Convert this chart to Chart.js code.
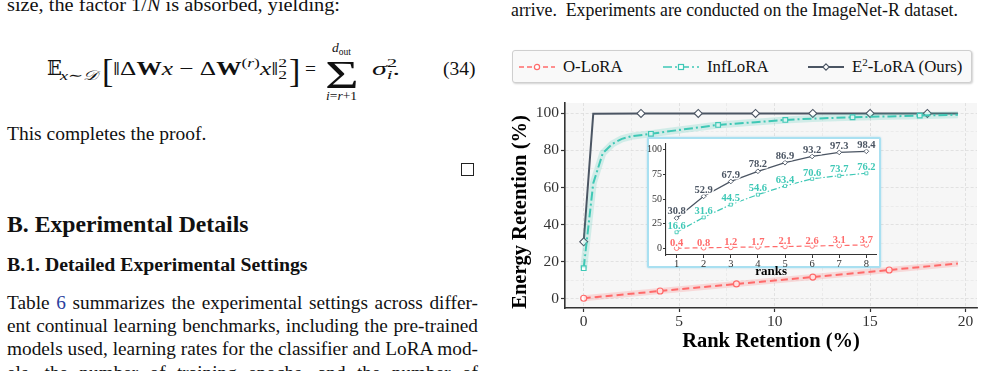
<!DOCTYPE html>
<html>
<head>
<meta charset="utf-8">
<script src="https://cdn.jsdelivr.net/npm/chart.js@4.4.1/dist/chart.umd.min.js"></script>
<style>
  html, body { margin: 0; padding: 0; background: #fff; }
  body { width: 984px; height: 371px; overflow: hidden; position: relative;
         font-family: 'Liberation Serif', 'Times New Roman', serif; color: #111; }
  .t { position: absolute; white-space: nowrap; transform-origin: left center; }
  .p { font-size: 19.3px; line-height: 19.3px; }
  .just { width: 471px; text-align: justify; text-align-last: justify; white-space: normal; }
  .up { font-size: 13.5px; position: relative; top: -7.5px; }
  .dn { font-size: 13.5px; position: relative; top: 4px; }
  .eqm { font-size: 19.5px; line-height: 19.5px; font-family: 'Liberation Serif', 'DejaVu Serif', serif; }
  .sm { font-size: 13.5px; line-height: 13.5px; font-family: 'Liberation Serif', 'DejaVu Serif', serif; }
  .big { font-size: 34px; line-height: 34px; }
  .qed { position: absolute; left: 461px; top: 163px; width: 11px; height: 11px; border: 1px solid #222; }
  .legend { position: absolute; left: 512px; top: 50px; width: 458px; height: 31px;
            border: 1px solid #cfcfcf; border-radius: 3px; background: #f9f9f9;
            box-shadow: 1px 1px 2px rgba(0,0,0,0.18); }
  .legend svg { position: absolute; top: 11px; }
  .legend .lt { position: absolute; top: 8px; font-size: 16.8px; line-height: 16.8px; white-space: nowrap; color: #111; }
  #mainWrap { position: absolute; left: 495px; top: 88px; width: 489px; height: 283px; }
  #insetBox { position: absolute; left: 647px; top: 137px; width: 234px; height: 131px; box-sizing: border-box;
              border: 2.5px solid #a9e0f1; border-radius: 2px; background: #fff;
              box-shadow: 0 0 2px rgba(120,200,230,0.6); }
  #insetWrap { position: absolute; left: 647px; top: 137px; width: 234px; height: 145px; }
</style>
</head>
<body>
<!-- left column -->
<div class="t" data-fit="333" style="left:7px;top:-5.3px;font-size:19.5px;line-height:19.5px">size, the factor 1/<i>N</i> is absorbed, yielding:</div>

<div class="t eqm" style="left:47px;top:58.7px">𝔼</div>
<div class="t sm" data-fit="38" style="left:60px;top:68.7px"><i>x</i>∼<i>𝒟</i></div>
<div class="t big" style="left:102px;top:53.5px">[</div>
<div class="t eqm" data-fit="174" style="left:113px;top:58.7px">‖Δ<b>W</b><i>x</i> − Δ<b>W</b><span class="up">(<i>r</i>)</span><i>x</i>‖<span class="up">2</span><span class="dn" style="margin-left:-6.8px">2</span></div>
<div class="t big" style="left:289px;top:53.5px">]</div>
<div class="t eqm" style="left:305px;top:58.7px">=</div>
<div class="t" style="left:325px;top:54.5px;font-size:40px;line-height:40px;transform:scaleX(1.45)">Σ</div>
<div class="t sm" style="left:332px;top:40.7px"><i>d</i><span style="font-size:9.5px;position:relative;top:3px">out</span></div>
<div class="t sm" style="left:326px;top:88.7px"><i>i</i>=<i>r</i>+1</div>
<div class="t eqm" data-fit="28" style="left:372px;top:58.7px"><i>σ</i><span class="up">2</span><span class="dn" style="margin-left:-6.8px"><i>i</i></span>.</div>
<div class="t eqm" style="left:443px;top:58.7px">(34)</div>

<div class="t" style="left:7px;top:123.7px;font-size:19.5px;line-height:19.5px">This completes the proof.</div>
<div class="qed"></div>

<div class="t" style="left:7px;top:213.2px;font-size:23.7px;line-height:23.7px;font-weight:bold">B. Experimental Details</div>
<div class="t" style="left:7px;top:255.4px;font-size:19.8px;line-height:19.8px;font-weight:bold">B.1. Detailed Experimental Settings</div>

<div class="t p just" style="left:7px;top:292.8px">Table <span style="color:#2b3f9e">6</span> summarizes the experimental settings across differ-</div>
<div class="t p just" style="left:7px;top:316.1px">ent continual learning benchmarks, including the pre-trained</div>
<div class="t p just" style="left:7px;top:339.3px">models used, learning rates for the classifier and LoRA mod-</div>
<div class="t p just" style="left:7px;top:362.5px">els, the number of training epochs, and the number of</div>

<!-- right column -->
<div class="t" data-fit="447" style="left:511px;top:1.5px;font-size:17.9px;line-height:17.9px">arrive.&nbsp; Experiments are conducted on the ImageNet-R dataset.</div>

<div class="legend">
  <svg style="left:6px" width="36" height="10" viewBox="0 0 36 10">
    <line x1="0" y1="5" x2="36" y2="5" stroke="#ff6b6b" stroke-width="1.5" stroke-dasharray="5 3"/>
    <circle cx="18" cy="5" r="2.6" fill="#fff" stroke="#ff6b6b" stroke-width="1.2"/>
  </svg>
  <div class="lt" style="left:50px">O-LoRA</div>
  <svg style="left:150px" width="36" height="10" viewBox="0 0 36 10">
    <line x1="0" y1="5" x2="36" y2="5" stroke="#3fc8b6" stroke-width="1.5" stroke-dasharray="9 3 2 3"/>
    <rect x="15.5" y="2.5" width="5" height="5" fill="#fff" stroke="#3fc8b6" stroke-width="1.2"/>
  </svg>
  <div class="lt" style="left:194px">InfLoRA</div>
  <svg style="left:295px" width="36" height="10" viewBox="0 0 36 10">
    <line x1="0" y1="5" x2="36" y2="5" stroke="#4b5563" stroke-width="1.8"/>
    <polygon points="18,1.8 21.2,5 18,8.2 14.8,5" fill="#fff" stroke="#4b5563" stroke-width="1.1"/>
  </svg>
  <div class="lt" style="left:339px">E<span style="font-size:11px;position:relative;top:-6px">2</span>-LoRA (Ours)</div>
</div>

<div id="mainWrap"><canvas id="main" width="489" height="283"></canvas></div>
<div id="insetBox"></div>
<div id="insetWrap"><canvas id="inset" width="234" height="145"></canvas></div>

<script>
// squeeze or stretch single text lines to the width they have in the page
function fitLines() {
    document.querySelectorAll('[data-fit]').forEach(el => {
        el.style.transform = 'none';
        const w = el.getBoundingClientRect().width;
        if (w > 0) el.style.transform = 'scaleX(' + (parseFloat(el.dataset.fit) / w) + ')';
    });
}
fitLines();
if (document.fonts) document.fonts.ready.then(fitLines);

// main panel: energy retention vs rank retention (%)
const e2X = [0, 0.5, 3, 6, 9, 12, 15, 18, 19.6];
const e2Y = [30.8, 99.7, 99.9, 99.9, 99.9, 99.9, 99.9, 99.9, 99.9];
const e2Marks = [0, 3, 6, 9, 12, 15, 18];

const infX = [0, 0.5, 1, 1.5, 2, 2.5, 3.52, 5, 7.04, 9, 10.56, 12, 14.08, 16, 17.6, 19.6];
const infY = [16.6, 62.3, 78.5, 83.5, 86.2, 87.6, 88.9, 91.0, 93.7, 95.2, 96.4, 97.1, 97.8, 98.3, 98.7, 99.2];
const infMarks = [0, 3.52, 7.04, 10.56, 14.08, 17.6];

const olX = [0, 4, 8, 12, 16, 19.6];
const olY = [0.4, 4.3, 8.1, 11.8, 15.6, 19.1];
const olMarks = [0, 4, 8, 12, 16];

const xTicks = [0, 5, 10, 15, 20];
const yTicks = [0, 20, 40, 60, 80, 100];

// inset: energy retention for the first ranks
const ranks = [1, 2, 3, 4, 5, 6, 7, 8];
const e2Rank = [30.8, 52.9, 67.9, 78.2, 86.9, 93.2, 97.3, 98.4];
const infRank = [16.6, 31.6, 44.5, 54.6, 63.4, 70.6, 73.7, 76.2];
const olRank = [0.4, 0.8, 1.2, 1.7, 2.1, 2.6, 3.1, 3.7];
const insetYTicks = [0, 25, 50, 75, 100];

const SERIF = "'Liberation Serif', 'Times New Roman', serif";
const RED = '#ff6b6b', TEAL = '#3fc8b6', DARK = '#4b5563';

const pts = (xs, ys) => xs.map((x, i) => ({ x: x, y: ys[i] }));
const markAt = (marks, r) => ctx => (ctx.raw && marks.includes(ctx.raw.x)) ? r : 0;

const panelBg = {
    id: 'panelBg',
    beforeDraw(chart, args, opts) {
        if (!opts.color) return;
        const { ctx, chartArea: a } = chart;
        ctx.save();
        ctx.fillStyle = opts.color;
        ctx.fillRect(a.left, a.top, a.right - a.left, a.bottom - a.top);
        ctx.restore();
    }
};

const axisTitles = {
    id: 'axisTitles',
    afterDraw(chart, args, opts) {
        const { ctx, chartArea: a } = chart;
        ctx.save();
        ctx.fillStyle = '#000';
        ctx.font = opts.font;
        ctx.textAlign = 'center';
        ctx.textBaseline = 'alphabetic';
        if (opts.x) ctx.fillText(opts.x, (a.left + a.right) / 2, opts.xBase);
        if (opts.y) {
            ctx.translate(opts.yBase, opts.yMid);
            ctx.rotate(-Math.PI / 2);
            ctx.fillText(opts.y, 0, 0);
        }
        ctx.restore();
    }
};

const pointLabels = {
    id: 'pointLabels',
    afterDatasetsDraw(chart) {
        const ctx = chart.ctx;
        chart.data.datasets.forEach((ds, i) => {
            if (!ds.labelColor) return;
            const meta = chart.getDatasetMeta(i);
            ctx.save();
            ctx.font = 'bold 10.5px ' + SERIF;
            ctx.textAlign = 'center';
            ctx.textBaseline = 'middle';
            ctx.lineJoin = 'round';
            ctx.lineWidth = 3;
            ctx.strokeStyle = 'rgba(255,255,255,0.95)';
            ctx.fillStyle = ds.labelColor;
            meta.data.forEach((pt, j) => {
                const txt = ds.data[j].y.toFixed(1);
                ctx.strokeText(txt, pt.x, pt.y - ds.labelGap);
                ctx.fillText(txt, pt.x, pt.y - ds.labelGap);
            });
            ctx.restore();
        });
    }
};

new Chart(document.getElementById('main'), {
    type: 'line',
    data: {
        datasets: [
            { data: pts(olX, olY), borderColor: 'rgba(255,107,107,0.2)', borderWidth: 6, pointRadius: 0 },
            { data: pts(infX, infY), borderColor: 'rgba(63,200,182,0.2)', borderWidth: 7, pointRadius: 0 },
            {
                label: 'O-LoRA', data: pts(olX, olY), borderColor: RED, borderWidth: 2, borderDash: [7, 4],
                pointStyle: 'circle', pointRadius: markAt(olMarks, 3), pointBackgroundColor: '#fff',
                pointBorderColor: RED, pointBorderWidth: 1.2
            },
            {
                label: 'InfLoRA', data: pts(infX, infY), borderColor: TEAL, borderWidth: 2, borderDash: [9, 3, 2, 3],
                pointStyle: 'rect', pointRadius: markAt(infMarks, 3.3), pointBackgroundColor: '#fff',
                pointBorderColor: TEAL, pointBorderWidth: 1.2
            },
            {
                label: 'E2-LoRA (Ours)', data: pts(e2X, e2Y), borderColor: DARK, borderWidth: 2,
                pointStyle: 'rectRot', pointRadius: markAt(e2Marks, 4), pointBackgroundColor: '#fff',
                pointBorderColor: DARK, pointBorderWidth: 1.1
            }
        ]
    },
    options: {
        responsive: false,
        animation: false,
        events: [],
        layout: { padding: { top: 15, right: 7, left: 0, bottom: 0 } },
        plugins: {
            legend: { display: false },
            tooltip: { enabled: false },
            panelBg: { color: '#f6f6f6' },
            axisTitles: {
                font: 'bold 20.5px ' + SERIF,
                x: 'Rank Retention (%)', xBase: 259,
                y: 'Energy Retention (%)', yBase: 31, yMid: 124
            }
        },
        scales: {
            x: {
                type: 'linear', min: -0.98, max: 20.6,
                ticks: {
                    stepSize: 2.5, includeBounds: false, autoSkip: false, maxRotation: 0, padding: 1,
                    color: '#333', font: { family: SERIF, size: 15.5 },
                    callback: v => xTicks.includes(v) ? String(v) : ''
                },
                grid: {
                    color: ctx => xTicks.includes(ctx.tick.value) ? '#dcdcdc' : '#e9e9e9',
                    lineWidth: 0.8, tickLength: 4, tickWidth: 1.2,
                    tickColor: ctx => xTicks.includes(ctx.tick.value) ? '#333' : 'rgba(0,0,0,0)'
                },
                border: { color: '#333', width: 1.6, dash: [3, 2] },
                afterFit: s => { s.height = 63; }
            },
            y: {
                type: 'linear', min: -4.85, max: 105.5,
                ticks: {
                    stepSize: 10, includeBounds: false, autoSkip: false, padding: 2,
                    color: '#333', font: { family: SERIF, size: 15.5 },
                    callback: v => yTicks.includes(v) ? String(v) : ''
                },
                grid: {
                    color: ctx => yTicks.includes(ctx.tick.value) ? '#dcdcdc' : '#e9e9e9',
                    lineWidth: 0.8, tickLength: 4, tickWidth: 1.2,
                    tickColor: ctx => yTicks.includes(ctx.tick.value) ? '#333' : 'rgba(0,0,0,0)'
                },
                border: { color: '#333', width: 1.6, dash: [3, 2] },
                afterFit: s => { s.width = 70; }
            }
        }
    },
    plugins: [panelBg, axisTitles]
});

new Chart(document.getElementById('inset'), {
    type: 'line',
    data: {
        datasets: [
            {
                data: pts(ranks, olRank), borderColor: RED, borderWidth: 1.2, borderDash: [5, 3],
                pointStyle: 'circle', pointRadius: 2.3, pointBackgroundColor: '#fff', pointBorderColor: RED,
                pointBorderWidth: 0.9, labelColor: RED, labelGap: 5
            },
            {
                data: pts(ranks, infRank), borderColor: TEAL, borderWidth: 1.2, borderDash: [6, 2, 1.5, 2],
                pointStyle: 'rect', pointRadius: 2.2, pointBackgroundColor: '#fff', pointBorderColor: TEAL,
                pointBorderWidth: 0.9, labelColor: TEAL, labelGap: 6
            },
            {
                data: pts(ranks, e2Rank), borderColor: DARK, borderWidth: 1.3,
                pointStyle: 'rectRot', pointRadius: 2.4, pointBackgroundColor: '#fff', pointBorderColor: DARK,
                pointBorderWidth: 0.9, labelColor: DARK, labelGap: 6.5
            }
        ]
    },
    options: {
        responsive: false,
        animation: false,
        events: [],
        layout: { padding: { top: 2, right: 1, left: 0, bottom: 0 } },
        plugins: {
            legend: { display: false },
            tooltip: { enabled: false },
            axisTitles: { font: 'bold 13px ' + SERIF, x: 'ranks', xBase: 138 }
        },
        scales: {
            x: {
                type: 'linear', min: 0.61, max: 8.36,
                ticks: {
                    stepSize: 1, includeBounds: false, autoSkip: false, maxRotation: 0, padding: 0,
                    color: '#333', font: { family: SERIF, size: 10.5 }
                },
                grid: { drawOnChartArea: false, tickLength: 3, tickColor: '#333' },
                border: { color: '#333', width: 1.1 },
                afterFit: s => { s.height = 27; }
            },
            y: {
                type: 'linear', min: -6.5, max: 105.8,
                ticks: {
                    stepSize: 25, includeBounds: false, autoSkip: false, padding: 1,
                    color: '#333', font: { family: SERIF, size: 10 },
                    callback: v => insetYTicks.includes(v) ? String(v) : ''
                },
                grid: { drawOnChartArea: false, tickLength: 3, tickColor: '#333' },
                border: { color: '#333', width: 1.1 },
                afterFit: s => { s.width = 19; }
            }
        }
    },
    plugins: [axisTitles, pointLabels]
});
</script>
</body>
</html>
